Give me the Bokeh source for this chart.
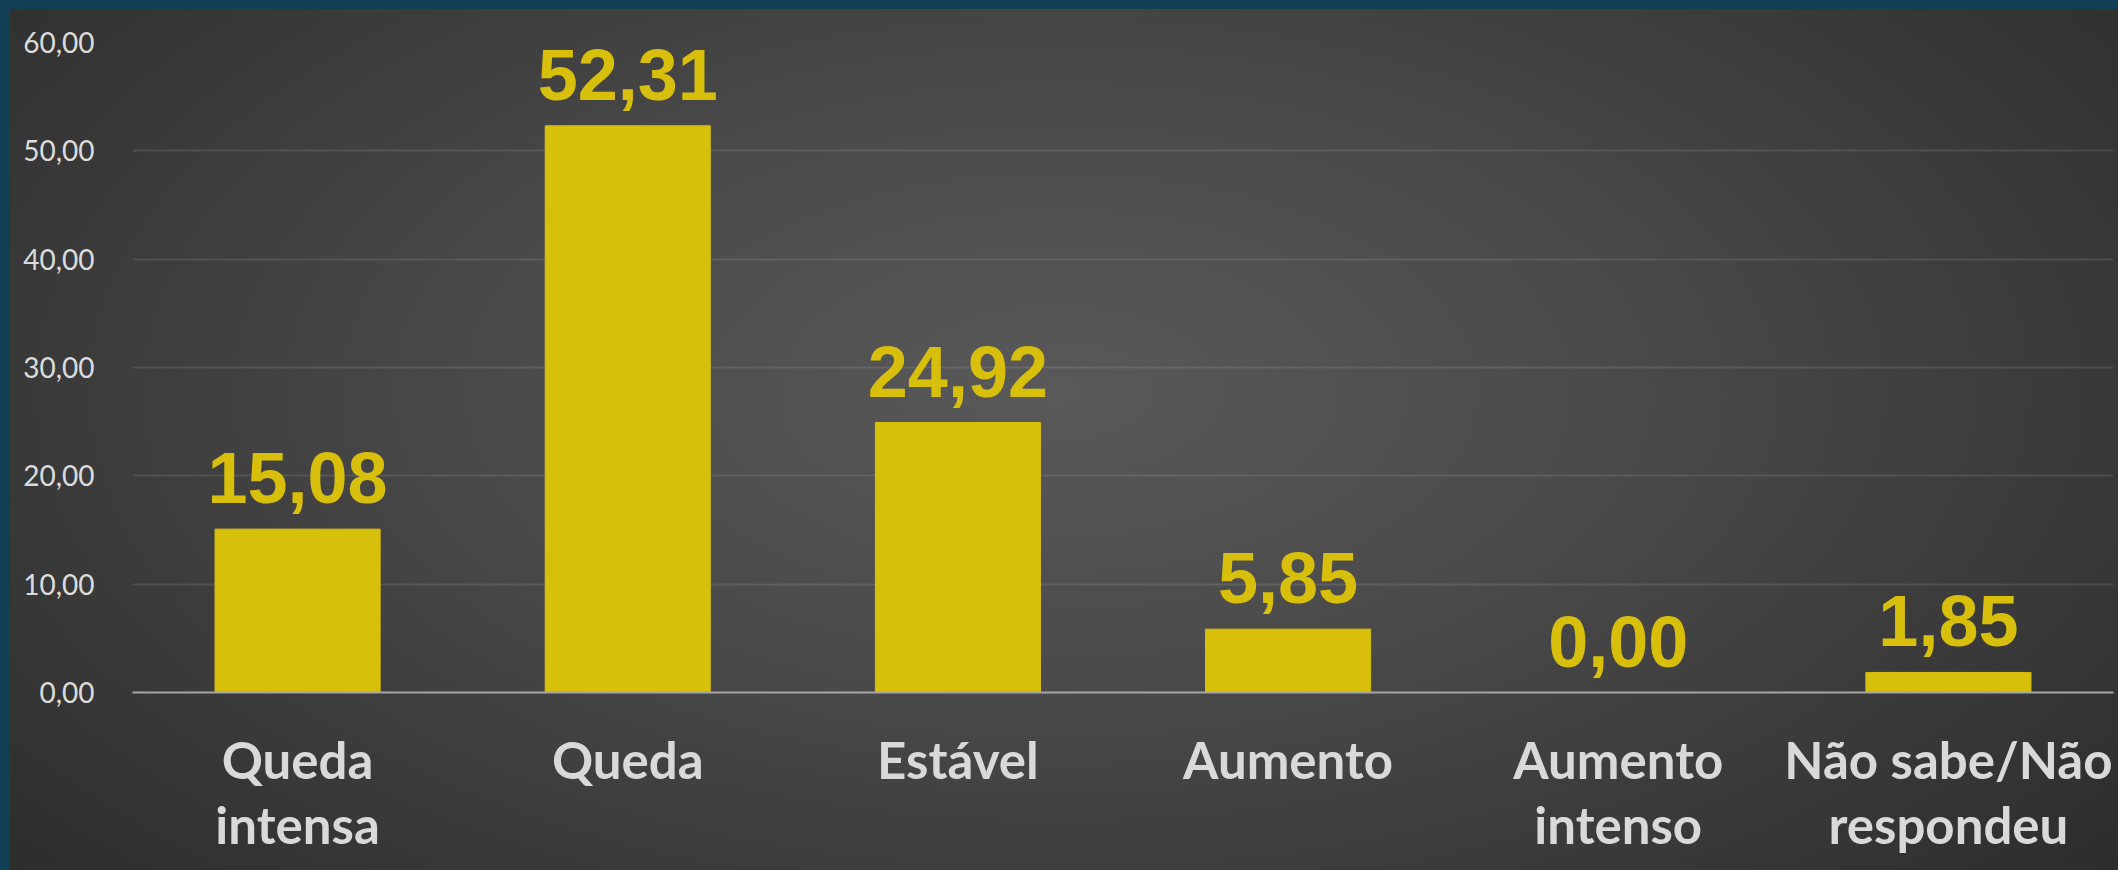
from bokeh.plotting import figure
from bokeh.models import ColumnDataSource, LabelSet, FixedTicker, Range1d
from bokeh.core.properties import value
from bokeh.embed import file_html
from bokeh.resources import INLINE

categories = ["Queda\nintensa", "Queda", "Estável", "Aumento", "Aumento\nintenso", "Não sabe/Não\nrespondeu"]
values = [15.08, 52.31, 24.92, 5.85, 0.00, 1.85]
value_labels = ["15,08", "52,31", "24,92", "5,85", "0,00", "1,85"]
y_ticks = [0, 10, 20, 30, 40, 50, 60]
y_tick_labels = ["0,00", "10,00", "20,00", "30,00", "40,00", "50,00", "60,00"]

YELLOW = "#d7bf0b"
BLUE = "#123f56"

src = ColumnDataSource(dict(cat=categories, val=values, lab=value_labels))

p = figure(x_range=categories, y_range=Range1d(0, 60),
           width=2118, height=870, output_backend="svg", toolbar_location=None,
           min_border_left=132, min_border_right=5, min_border_top=42, min_border_bottom=178,
           frame_width=1981, frame_height=650)

p.styles = {"background": (
    f"linear-gradient({BLUE},{BLUE}) left top / 100% 9px no-repeat, "
    f"linear-gradient({BLUE},{BLUE}) left top / 10px 100% no-repeat, "
    "radial-gradient(ellipse 75% 95% at 50% 45%, #595959 0%, #4a4a4a 35%, #262626 100%)")}
p.background_fill_alpha = 0
p.border_fill_alpha = 0
p.outline_line_color = None

p.vbar(x="cat", top="val", width=0.5, source=src, fill_color=YELLOW, line_color=YELLOW)

labels = LabelSet(x="cat", y="val", text="lab", source=src, y_offset=26,
                  text_align="center", text_baseline="alphabetic",
                  text_font=value("Liberation Sans"), text_font_style="bold",
                  text_font_size="72px", text_color=YELLOW)
p.add_layout(labels)

p.yaxis.ticker = FixedTicker(ticks=y_ticks)
p.yaxis.major_label_overrides = {t: l for t, l in zip(y_ticks, y_tick_labels)}
p.yaxis.axis_line_color = None
p.yaxis.major_tick_line_color = None
p.yaxis.minor_tick_line_color = None
p.yaxis.major_label_standoff = 32
p.yaxis.major_label_text_font = "Lato"
p.yaxis.major_label_text_font_size = "28px"
p.yaxis.major_label_text_color = "#dcdcdc"

p.xaxis.axis_line_color = "#a6a6a6"
p.xaxis.axis_line_width = 2
p.xaxis.major_tick_line_color = None
p.xaxis.minor_tick_line_color = None
p.xaxis.major_label_standoff = 30
p.xaxis.major_label_text_font = "Lato"
p.xaxis.major_label_text_font_style = "bold"
p.xaxis.major_label_text_font_size = "51px"
p.xaxis.major_label_text_color = "#d9d9d9"
p.xaxis.major_label_text_line_height = 1.08

p.xgrid.grid_line_color = None
p.ygrid.grid_line_color = "white"
p.ygrid.grid_line_alpha = 0.1
p.ygrid.grid_line_width = 2

open("out.html", "w").write(file_html(p, INLINE))
